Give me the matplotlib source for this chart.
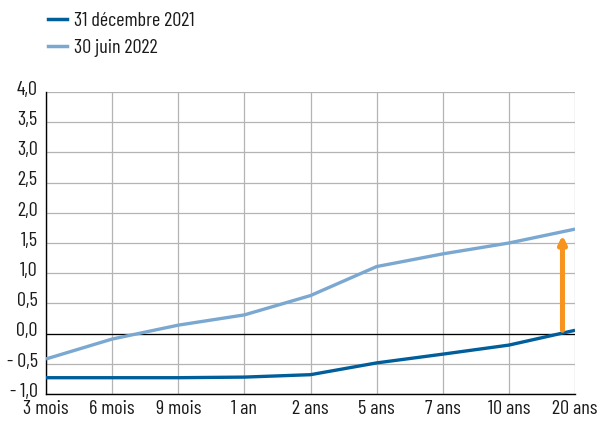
import matplotlib
matplotlib.use("Agg")
import matplotlib.pyplot as plt
from matplotlib.lines import Line2D
from matplotlib.transforms import ScaledTranslation

plt.rcParams['font.family'] = ['Barlow Condensed', 'DejaVu Sans']

categories = ["3 mois", "6 mois", "9 mois", "1 an", "2 ans", "5 ans", "7 ans", "10 ans", "20 ans"]
dec_2021 = [-0.73, -0.73, -0.73, -0.72, -0.68, -0.485, -0.34, -0.19, 0.055]
jun_2022 = [-0.42, -0.09, 0.14, 0.31, 0.63, 1.11, 1.32, 1.50, 1.73]
yticks = [-1.0, -0.5, 0.0, 0.5, 1.0, 1.5, 2.0, 2.5, 3.0, 3.5, 4.0]
ytick_labels = ["- 1,0", "- 0,5", "0,0", "0,5", "1,0", "1,5", "2,0", "2,5", "3,0", "3,5", "4,0"]
series_labels = ["31 décembre 2021", "30 juin 2022"]

# arrow showing the shift at the long end
arrow_x = 7.81
arrow_from = 0.055
arrow_to = 1.63

dark = "#005e9b"
light = "#7aa8d0"
orange = "#f7941d"

fig = plt.figure(figsize=(5.99, 4.21), dpi=100)
ax = fig.add_axes([0.0768, 0.0641, 0.8832, 0.7174])

x = list(range(len(categories)))
ax.plot(x, jun_2022, color=light, lw=2.4, solid_capstyle='butt', zorder=3)
ax.plot(x, dec_2021, color=dark, lw=2.4, solid_capstyle='butt', zorder=3)
ax.axhline(0, color="black", lw=0.9, zorder=2)

ax.annotate("", xy=(arrow_x, arrow_to), xytext=(arrow_x, arrow_from),
            arrowprops=dict(arrowstyle="-|>,head_length=0.45,head_width=0.22",
                            color=orange, lw=3.6, shrinkA=0, shrinkB=0),
            zorder=4)

ax.set_xlim(0, len(categories) - 1)
ax.set_ylim(-1.0, 4.0)
ax.set_xticks(x)
ax.set_xticklabels(categories)
ax.set_yticks(yticks)
ax.set_yticklabels(ytick_labels)
ax.grid(True, color="#b4b4b4", lw=0.9, zorder=1)
ax.tick_params(axis='both', length=0, labelsize=14.5, colors="#1a1a1a")
ax.tick_params(axis='x', pad=4)
ax.tick_params(axis='y', pad=6)
# lift the value labels a little above their gridlines
lift = ScaledTranslation(0, 3 / 72, fig.dpi_scale_trans)
for lab in ax.get_yticklabels():
    lab.set_transform(lab.get_transform() + lift)
for side in ["top", "right"]:
    ax.spines[side].set_visible(False)
for side in ["left", "bottom"]:
    ax.spines[side].set_color("black")
    ax.spines[side].set_linewidth(1.0)

handles = [Line2D([], [], color=dark, lw=2.5), Line2D([], [], color=light, lw=2.5)]
fig.legend(handles, series_labels, loc="upper left", bbox_to_anchor=(0.066, 0.99),
           frameon=False, fontsize=14.5, handlelength=0.95, handletextpad=0.35,
           labelspacing=0.42, borderaxespad=0, labelcolor="#1a1a1a")

fig.savefig("out.png", dpi=100)
